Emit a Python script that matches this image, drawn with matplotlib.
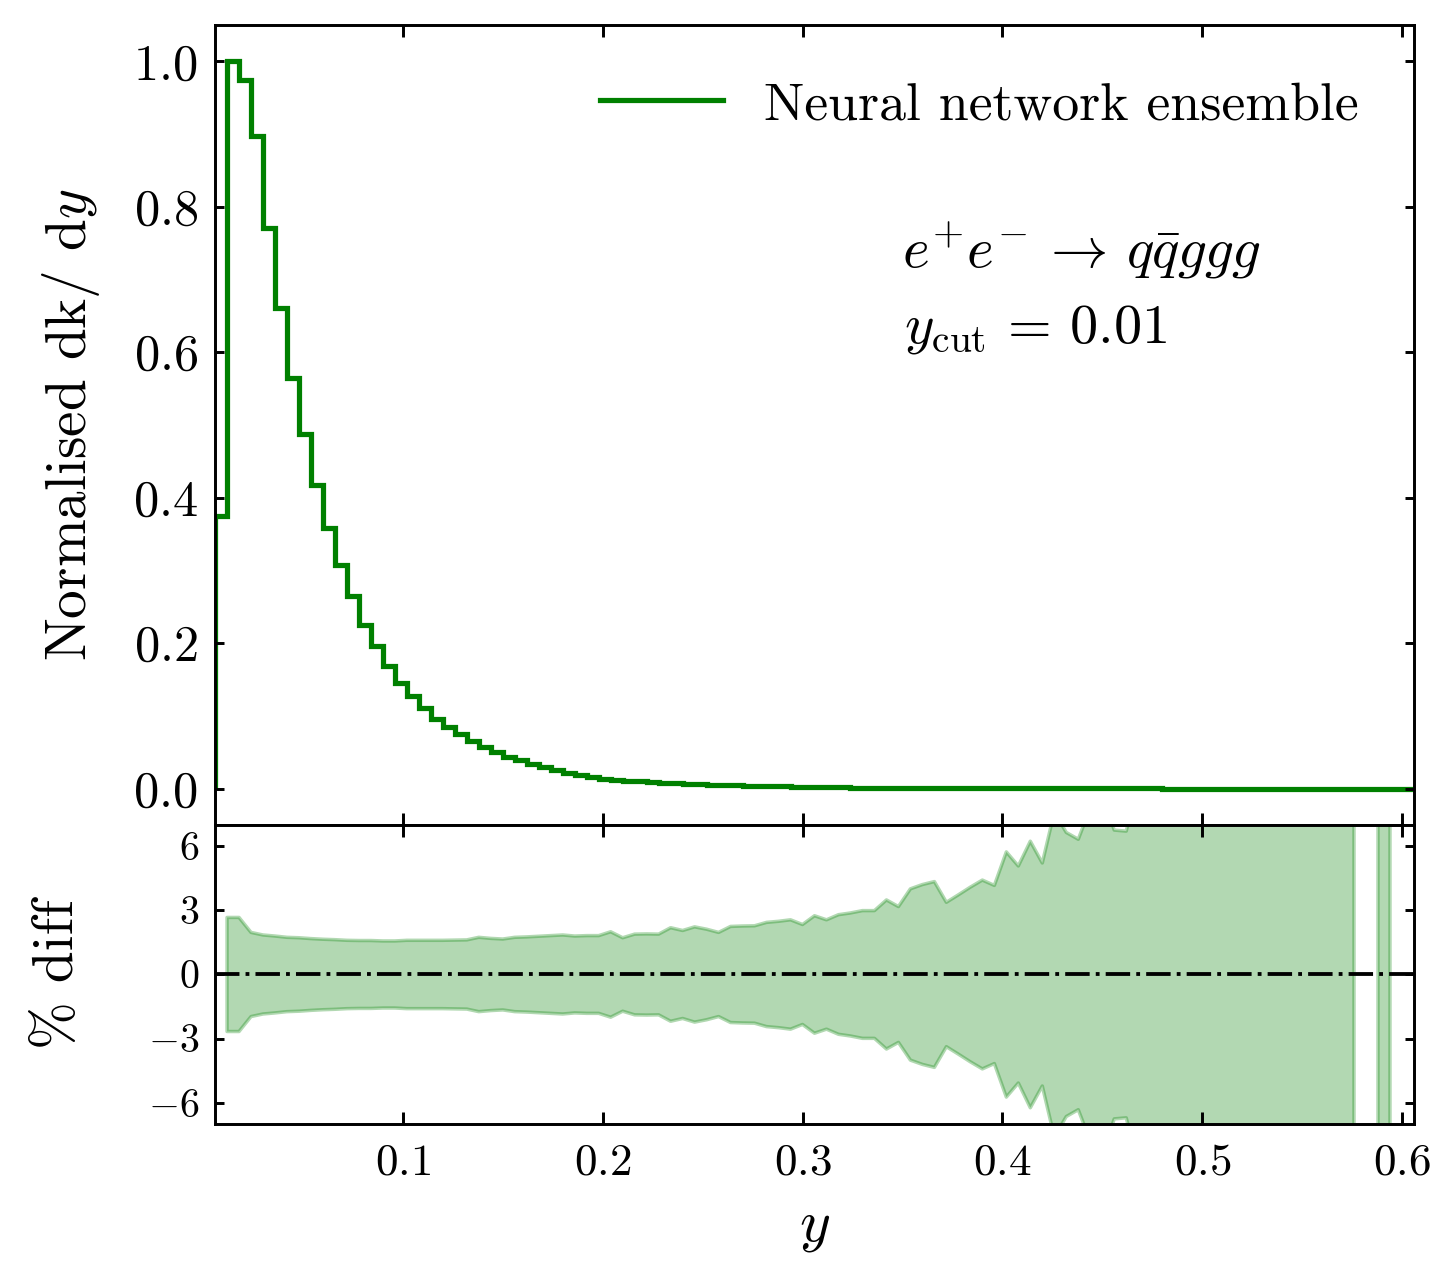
import numpy as np
import matplotlib
matplotlib.use("Agg")
import matplotlib.pyplot as plt

plt.rcParams['font.family'] = 'serif'
plt.rcParams['font.serif'] = ['cmr10']
plt.rcParams['mathtext.fontset'] = 'cm'
plt.rcParams['axes.formatter.use_mathtext'] = True
plt.rcParams['axes.unicode_minus'] = True

# binning of the y distribution
bin_lo = 0.006
bin_width = 0.006
n_bins = 100
edges = bin_lo + bin_width * np.arange(n_bins + 1)

# normalised dk/dy, one value per bin
dkdy = [0.375, 1.0, 0.975, 0.898, 0.771, 0.661, 0.565, 0.488, 0.418, 0.358,
        0.308, 0.265, 0.225, 0.196, 0.169, 0.145, 0.128, 0.111, 0.096, 0.084,
        0.075, 0.065, 0.057, 0.050, 0.044, 0.039, 0.034, 0.029, 0.025, 0.0215,
        0.018, 0.0155, 0.0137, 0.012, 0.0108, 0.0098, 0.0089, 0.0081, 0.0074, 0.0067,
        0.0061, 0.0055, 0.0050, 0.0045, 0.0041, 0.0037, 0.0033, 0.0029, 0.0026, 0.0023,
        0.0020, 0.0018, 0.0016, 0.0014, 0.0012, 0.0011, 0.0010, 0.0009, 0.0008, 0.0007,
        0.00065, 0.0006, 0.00055, 0.0005, 0.00045, 0.0004, 0.00037, 0.00034, 0.00031, 0.00028,
        0.00025, 0.00023, 0.00021, 0.00019, 0.00017, 0.00015, 0.00014, 0.00013, 0.00012, 0.00011,
        0.0001, 0.00009, 0.00008, 0.00007, 0.00007, 0.00006, 0.00006, 0.00005, 0.00005, 0.00004,
        0.00004, 0.00004, 0.00003, 0.00003, 0.00003, 0.00002, 0.00002, 0.00002, 0.00002, 0.00001]

# ensemble spread in % at the inner bin edges (0.012 ... 0.600)
pct_spread = [2.67, 2.67, 1.97, 1.85, 1.80, 1.74, 1.72, 1.68, 1.65, 1.63,
              1.60, 1.59, 1.59, 1.57, 1.57, 1.60, 1.60, 1.60, 1.60, 1.61,
              1.62, 1.74, 1.69, 1.66, 1.74, 1.76, 1.79, 1.82, 1.85, 1.80,
              1.82, 1.82, 2.00, 1.72, 1.89, 1.90, 1.89, 2.19, 2.06, 2.23,
              2.12, 1.97, 2.25, 2.27, 2.28, 2.44, 2.49, 2.56, 2.34, 2.75,
              2.56, 2.80, 2.88, 2.99, 2.99, 3.49, 3.18, 4.01, 4.21, 4.35,
              3.38, 3.73, 4.09, 4.42, 4.17, 5.74, 5.08, 6.24, 5.22, 7.6,
              6.65, 6.33, 7.8, 8.4, 6.76, 6.71, 8.9, 9.5, 8.8, 10.4,
              11.2, 9.9, 12.5, 13.1, 11.8, 14.6, 15.3, 16.8, 14.2, 18.5,
              21.0, 19.4, 24.0, 28.5, 35.0, np.nan, 45.0, 60.0, np.nan]

x_ticks = [0.1, 0.2, 0.3, 0.4, 0.5, 0.6]
top_yticks = [0.0, 0.2, 0.4, 0.6, 0.8, 1.0]
bot_yticks = [-6, -3, 0, 3, 6]

fig = plt.figure(figsize=(5.82, 5.108), dpi=250)
ax1 = fig.add_axes([0.1478, 0.354, 0.824, 0.6264])
ax2 = fig.add_axes([0.1478, 0.1198, 0.824, 0.2342])

ax1.stairs(dkdy, edges, color='green', lw=1.5, label='Neural network ensemble')
ax1.set_xlim(edges[0], edges[-1])
ax1.set_ylim(-0.05, 1.05)
ax1.set_xticks(x_ticks)
ax1.set_xticklabels([])
ax1.set_yticks(top_yticks)
ax1.set_ylabel(r'Normalised dk/ d$y$', fontsize=16.5)
ax1.yaxis.set_label_coords(-0.094, 0.5)
ax1.legend(loc='upper right', bbox_to_anchor=(0.994, 0.99), frameon=False,
           fontsize=15.5, handlelength=2.3, handletextpad=0.75)
ax1.text(0.573, 0.6975, r'$e^{+}e^{-}\,\to\, q\bar{q}ggg$', transform=ax1.transAxes,
         fontsize=16.5, va='baseline', ha='left')
ax1.text(0.575, 0.6025, r'$y_{\rm cut}\,=\,0.01$', transform=ax1.transAxes,
         fontsize=16.2, va='baseline', ha='left')

x_ratio = edges[1:-1]
spread = np.array(pct_spread)
ax2.fill_between(x_ratio, -spread, spread, color='green', alpha=0.3)
ax2.axhline(0, color='k', ls='-.', lw=1.1)
ax2.set_xlim(edges[0], edges[-1])
ax2.set_ylim(-7, 7)
ax2.set_xticks(x_ticks)
ax2.set_yticks(bot_yticks)
ax2.set_xlabel(r'$y$', fontsize=17)
ax2.xaxis.set_label_coords(0.5, -0.255)
ax2.set_ylabel(r'% diff', fontsize=16.5)
ax2.yaxis.set_label_coords(-0.109, 0.5)

for ax in (ax1, ax2):
    for s in ax.spines.values():
        s.set_linewidth(0.85)
    ax.tick_params(which='both', direction='in', top=True, right=True, width=0.85)
    ax.tick_params(axis='x', length=3.5)
    ax.tick_params(axis='y', length=2.7)
    ax.minorticks_off()

ax1.tick_params(axis='y', labelsize=14.5, pad=5)
ax2.tick_params(axis='y', labelsize=11.5, pad=4.5)
ax2.tick_params(axis='x', labelsize=13, pad=5.5)

fig.savefig('out.png', dpi=250)
